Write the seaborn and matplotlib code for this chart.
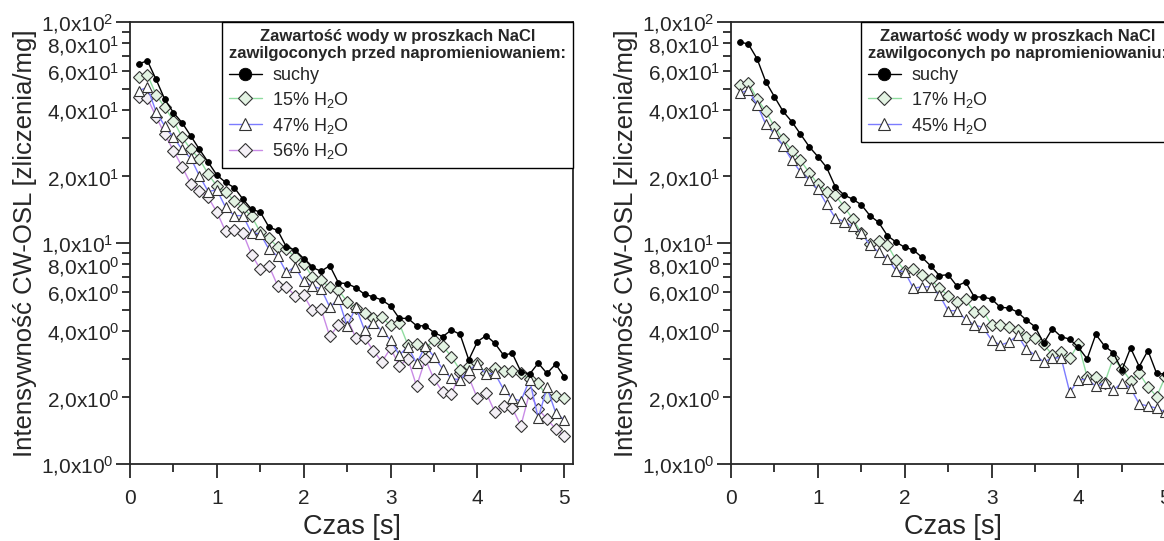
import numpy as np
import matplotlib
matplotlib.use("Agg")
import matplotlib.pyplot as plt
import seaborn as sns
from matplotlib.ticker import FixedLocator, FuncFormatter, MultipleLocator

# ---------------- data ----------------
time_s = np.round(np.arange(1, 51) * 0.1, 1)

# left panel: moistened before irradiation
left_suchy = [64.6, 66.8, 55.0, 44.7, 38.9, 35.0, 30.5, 26.5, 23.2, 20.3,
              18.8, 17.8, 15.8, 14.2, 13.8, 11.8, 11.4, 9.6, 9.3, 8.5,
              7.75, 7.45, 7.9, 6.6, 6.55, 6.28, 5.86, 5.71, 5.52, 5.19,
              4.56, 4.56, 4.22, 4.22, 3.93, 3.77, 4.04, 3.86, 2.96, 3.58,
              3.81, 3.52, 3.11, 3.17, 2.62, 2.55, 2.86, 2.57, 2.83, 2.48]
left_15 = [56.2, 57.8, 46.9, 41.1, 35.8, 30.1, 26.5, 24.0, 20.5, 18.1,
           17.1, 15.5, 14.4, 13.2, 11.2, 10.5, 9.6, 9.36, 8.67, 8.04,
           7.04, 6.80, 6.30, 6.13, 5.42, 5.06, 4.81, 4.56, 4.61, 4.24,
           4.33, 3.45, 3.49, 3.34, 3.64, 3.43, 3.06, 2.66, 2.79, 2.85,
           2.57, 2.71, 2.64, 2.64, 2.57, 2.42, 2.33, 2.00, 2.03, 1.98]
left_47 = [48.9, 50.6, 39.3, 33.8, 30.1, 26.5, 24.2, 20.1, 17.1, 17.4,
           14.5, 13.3, 13.3, 11.1, 11.0, 9.36, 8.73, 7.37, 7.81, 6.7,
           6.37, 6.2, 5.13, 5.57, 4.21, 5.12, 4.04, 4.36, 4.01, 3.64,
           3.11, 3.40, 2.85, 3.42, 3.06, 2.69, 2.44, 2.40, 2.66, 2.83,
           2.55, 2.57, 2.18, 1.98, 1.93, 2.40, 1.61, 2.22, 1.71, 1.58]
left_56 = [45.6, 45.3, 37.3, 31.1, 26.2, 22.1, 18.5, 17.2, 16.1, 13.8,
           11.3, 11.5, 11.1, 8.85, 7.63, 7.87, 6.41, 6.34, 5.78, 5.79,
           4.96, 5.02, 3.78, 4.26, 4.54, 3.73, 3.73, 3.26, 2.90, 3.34,
           2.79, 2.98, 2.25, 2.98, 2.42, 2.12, 2.07, 2.57, 2.47, 1.98,
           2.10, 1.72, 1.83, 1.79, 1.49, 2.10, 1.77, 1.60, 1.44, 1.34]

# right panel: moistened after irradiation
right_suchy = [81.2, 79.5, 68.2, 53.7, 45.9, 39.4, 35.4, 31.1, 27.3, 24.6,
               22.0, 18.0, 16.5, 15.8, 14.9, 13.3, 12.4, 10.8, 10.1, 9.56,
               9.3, 8.6, 7.87, 7.12, 7.19, 6.39, 6.66, 5.71, 5.69, 5.58,
               5.12, 5.08, 4.87, 4.48, 4.18, 3.52, 4.10, 3.77, 3.67, 3.37,
               2.99, 3.86, 3.42, 3.19, 2.66, 3.35, 2.76, 3.26, 2.57, 2.55]
right_17 = [51.9, 53.1, 45.0, 39.4, 33.6, 29.5, 26.2, 23.7, 20.8, 18.5,
            17.1, 16.5, 14.6, 12.9, 11.1, 9.86, 10.2, 9.80, 8.38, 7.50,
            7.60, 7.17, 6.85, 6.24, 5.78, 5.42, 5.56, 4.89, 4.94, 4.26,
            4.27, 4.15, 4.04, 3.77, 3.70, 3.49, 3.11, 3.22, 3.01, 3.49,
            2.48, 2.48, 2.32, 3.01, 2.70, 2.38, 2.57, 2.24, 2.02, 2.48]
right_45 = [47.6, 49.2, 42.1, 34.5, 31.4, 27.5, 23.7, 21.0, 19.3, 17.5,
            15.0, 13.0, 12.5, 11.9, 11.1, 9.80, 9.1, 8.5, 7.50, 7.41,
            6.24, 6.34, 6.33, 5.8, 4.94, 4.94, 4.52, 4.26, 4.15, 3.64,
            3.45, 3.56, 3.82, 3.31, 3.11, 2.90, 3.01, 3.03, 2.11, 2.40,
            2.42, 2.25, 2.32, 2.16, 2.33, 2.20, 1.87, 1.83, 1.79, 1.72]

left_labels = ["suchy", "15% H$_2$O", "47% H$_2$O", "56% H$_2$O"]
right_labels = ["suchy", "17% H$_2$O", "45% H$_2$O"]
left_title = "Zawartość wody w proszkach NaCl\nzawilgoconych przed napromieniowaniem:"
right_title = "Zawartość wody w proszkach NaCl\nzawilgoconych po napromieniowaniu:"
xlabel = "Czas [s]"
ylabel = "Intensywność CW-OSL [zliczenia/mg]"
x_ticks = [0, 1, 2, 3, 4, 5]

# ---------------- style ----------------
sns.set_style("ticks")
plt.rcParams["font.family"] = ["Liberation Sans", "DejaVu Sans"]
plt.rcParams["mathtext.default"] = "regular"
plt.rcParams["axes.linewidth"] = 1.3

styles = {
    "suchy": dict(color="black", marker="o", markersize=4.2, markerfacecolor="black",
                  markeredgecolor="black", markeredgewidth=0.6, linewidth=1.0, zorder=5),
    "green": dict(color="#8fdc9f", marker="D", markersize=5.8, markerfacecolor="#e3f3e3",
                  markeredgecolor="#333333", markeredgewidth=0.8, linewidth=1.0, zorder=3),
    "blue": dict(color="#7c7cff", marker="^", markersize=7.2, markerfacecolor="white",
                 markeredgecolor="#333333", markeredgewidth=0.8, linewidth=1.0, zorder=3),
    "purple": dict(color="#c98be6", marker="D", markersize=5.8, markerfacecolor="#f4f0f6",
                   markeredgecolor="#333333", markeredgewidth=0.8, linewidth=1.0, zorder=2),
}


def ytick_fmt(v, pos):
    e = int(np.floor(np.log10(v) + 1e-9))
    m = v / 10 ** e
    mi = int(round(m))
    if mi not in (1, 2, 4, 6, 8):
        return ""
    return f"{mi},0x10$^{{{e}}}$"


fig = plt.figure(figsize=(11.64, 5.41), dpi=100)
W, H = 1164, 541
axL = fig.add_axes([130 / W, 77 / H, 443 / W, 442 / H])
axR = fig.add_axes([731 / W, 77 / H, 443 / W, 442 / H])

panels = [
    (axL, [left_suchy, left_15, left_47, left_56], left_labels,
     ["suchy", "green", "blue", "purple"], left_title),
    (axR, [right_suchy, right_17, right_45], right_labels,
     ["suchy", "green", "blue"], right_title),
]

for ax, series, labels, keys, title in panels:
    for vals, lab, key in zip(series, labels, keys):
        sns.lineplot(x=time_s, y=vals, ax=ax, label=lab, **styles[key])
    ax.set_yscale("log")
    ax.set_ylim(1, 100)
    ax.set_xlim(0, 5.1)
    ax.set_xticks(x_ticks)
    ax.xaxis.set_minor_locator(MultipleLocator(0.5))
    ax.yaxis.set_major_locator(FixedLocator([1, 10, 100]))
    ax.yaxis.set_minor_locator(FixedLocator([m * 10 ** e for e in (0, 1) for m in range(2, 10)]))
    ax.yaxis.set_major_formatter(FuncFormatter(ytick_fmt))
    ax.yaxis.set_minor_formatter(FuncFormatter(ytick_fmt))
    ax.tick_params(axis="both", which="major", direction="out", length=10, width=1.3)
    ax.tick_params(axis="both", which="minor", direction="out", length=5.5, width=1.3)
    ax.tick_params(axis="x", which="major", labelsize=15, pad=8)
    ax.tick_params(axis="y", which="both", labelsize=15, pad=2)
    for sp in ax.spines.values():
        sp.set_visible(True)
        sp.set_linewidth(1.3)
    ax.set_xlabel(xlabel, fontsize=19.5, labelpad=4)
    ax.set_ylabel(ylabel, fontsize=18.5, labelpad=3)

    leg = ax.legend(title=title, loc="upper right", bbox_to_anchor=(1, 1),
                    borderaxespad=0, frameon=True, fancybox=False, edgecolor="black",
                    framealpha=1, fontsize=13, handlelength=1.8, handletextpad=0.6,
                    labelspacing=0.32, borderpad=0.38, alignment="left",
                    title_fontproperties={"weight": "bold", "size": 12})
    leg.get_title().set_multialignment("center")
    leg.get_frame().set_linewidth(1.0)
    for h, key in zip(leg.legend_handles, keys):
        h.set_markersize(9 if key == "suchy" else 7.5 if key != "blue" else 8.5)

fig.savefig("out.png", dpi=100)
